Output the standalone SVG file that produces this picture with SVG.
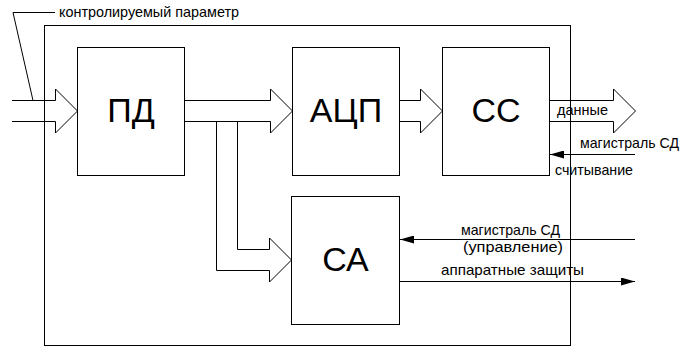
<svg xmlns="http://www.w3.org/2000/svg" width="693" height="349" viewBox="0 0 693 349">
<style>
.box{fill:#fff;stroke:#000;stroke-width:1}
.ln{fill:none;stroke:#000;stroke-width:1}
.big{font-family:"Liberation Sans",Arial,sans-serif;font-size:34px;fill:#000;text-anchor:middle}
.sm{font-family:"Liberation Sans",Arial,sans-serif;font-size:14.5px;fill:#000}
</style>
<defs>
<marker id="ah" viewBox="0 0 14 8" refX="14" refY="4" markerWidth="14" markerHeight="8" markerUnits="userSpaceOnUse" orient="auto">
<path d="M0,0 L14,4 L0,8 Z" fill="#000"/>
</marker>
</defs>
<rect width="693" height="349" fill="#fff"/>
<g id="frame"><rect x="44.5" y="25.5" width="526" height="320" class="ln"/></g>
<g id="n-pd"><rect x="77.5" y="47.5" width="107" height="128" class="box"/><text x="131" y="122" class="big">ПД</text></g>
<g id="n-acp"><rect x="292.5" y="47.5" width="107" height="128" class="box"/><text x="346" y="122" class="big">АЦП</text></g>
<g id="n-cc"><rect x="442.5" y="47.5" width="107" height="128" class="box"/><text x="496" y="122" class="big">СС</text></g>
<g id="n-ca"><rect x="291.5" y="196.5" width="108" height="128" class="box"/><text x="345.5" y="271" class="big">СА</text></g>
<g id="connectors">
<path class="ln" d="M13,12.5 H55 M13,12.5 L33,100.5"/>
<path class="ln" d="M12,100.5 H55.5 V89 L77.5,111 L55.5,133 V121.5 H12"/>
<path class="ln" d="M184.5,100.5 H270.5 V89 L292.5,111 L270.5,133 V121.5 H184.5"/>
<path class="ln" d="M216.5,121.5 V270.5 H269.5 V282 L291.5,260 L269.5,238 V249.5 H237.5 V121.5"/>
<path class="ln" d="M399.5,100.5 H420.5 V89 L442.5,111 L420.5,133 V121.5 H399.5"/>
<path class="ln" d="M549.5,100.5 H613.5 V89 L635.5,111 L613.5,133 V121.5 H549.5"/>
<line class="ln" x1="635" y1="154.5" x2="550" y2="154.5" marker-end="url(#ah)"/>
<line class="ln" x1="635" y1="239.5" x2="400" y2="239.5" marker-end="url(#ah)"/>
<line class="ln" x1="400" y1="281.5" x2="635" y2="281.5" marker-end="url(#ah)"/>
</g>
<g id="labels">
<text x="59" y="17" class="sm" textLength="180" lengthAdjust="spacingAndGlyphs">контролируемый параметр</text>
<text x="557" y="115" class="sm" textLength="51" lengthAdjust="spacingAndGlyphs">данные</text>
<text x="580" y="148" class="sm" textLength="99" lengthAdjust="spacingAndGlyphs">магистраль СД</text>
<text x="555" y="175" class="sm" textLength="78" lengthAdjust="spacingAndGlyphs">считывание</text>
<text x="461" y="235" class="sm" textLength="99" lengthAdjust="spacingAndGlyphs">магистраль СД</text>
<text x="463" y="252" class="sm" textLength="100" lengthAdjust="spacingAndGlyphs">(управление)</text>
<text x="441" y="275" class="sm" textLength="143" lengthAdjust="spacingAndGlyphs">аппаратные защиты</text>
</g>
</svg>
